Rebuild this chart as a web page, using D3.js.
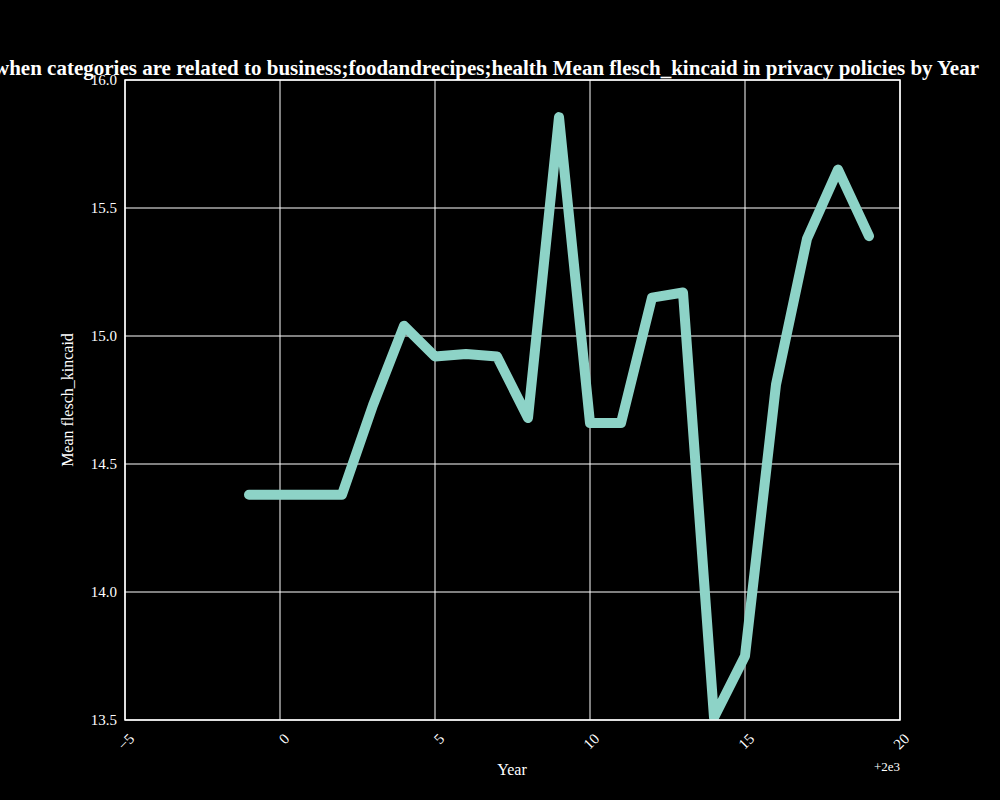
<!DOCTYPE html>
<html lang="en">
<head>
<meta charset="UTF-8">
<script src="https://d3js.org/d3.v7.min.js"></script>
<style>
  body { margin: 0; background: #000; }
  svg { display: block; }
  text { font-family: "Liberation Serif", "DejaVu Serif", serif; fill: #fff; }
</style>
</head>
<body>
<svg width="1000" height="800"></svg>
<script>
// values
const years = [-1, 0, 1, 2, 3, 4, 5, 6, 7, 8, 9, 10, 11, 12, 13, 14, 15, 16, 17, 18, 19];
const meanFK = [14.38, 14.38, 14.38, 14.38, 14.73, 15.04, 14.92, 14.93, 14.92, 14.68, 15.855,
                14.66, 14.66, 15.15, 15.17, 13.51, 13.75, 14.81, 15.38, 15.65, 15.39];
const xTicks = [-5, 0, 5, 10, 15, 20];
const yTicks = [13.5, 14.0, 14.5, 15.0, 15.5, 16.0];

const svg = d3.select("svg");
const mLeft = 125, mRight = 900, mTop = 80, mBottom = 720;

const x = d3.scaleLinear().domain([-5, 20]).range([mLeft, mRight]);
const y = d3.scaleLinear().domain([13.5, 16]).range([mBottom, mTop]);

// grid
svg.append("g").selectAll("line").data(xTicks).join("line")
  .attr("x1", d => x(d)).attr("x2", d => x(d)).attr("y1", mTop).attr("y2", mBottom)
  .attr("stroke", "#fff").attr("stroke-width", 1);
svg.append("g").selectAll("line").data(yTicks).join("line")
  .attr("x1", mLeft).attr("x2", mRight).attr("y1", d => y(d)).attr("y2", d => y(d))
  .attr("stroke", "#fff").attr("stroke-width", 1);

// line
svg.append("clipPath").attr("id", "c").append("rect")
  .attr("x", mLeft).attr("y", mTop).attr("width", mRight - mLeft).attr("height", mBottom - mTop);
svg.append("path")
  .datum(years.map((d, i) => [d, meanFK[i]]))
  .attr("clip-path", "url(#c)")
  .attr("fill", "none").attr("stroke", "#8dd3c7").attr("stroke-width", 10)
  .attr("stroke-linejoin", "round").attr("stroke-linecap", "round")
  .attr("d", d3.line().x(d => x(d[0])).y(d => y(d[1])));

// frame
svg.append("rect").attr("x", mLeft).attr("y", mTop).attr("width", mRight - mLeft).attr("height", mBottom - mTop)
  .attr("fill", "none").attr("stroke", "#fff").attr("stroke-width", 1.5);

// axes
const xa = svg.append("g").attr("transform", `translate(0,${mBottom})`)
  .call(d3.axisBottom(x).tickValues(xTicks).tickSize(0).tickPadding(0).tickFormat(d => d < 0 ? "\u2212" + (-d) : d));
xa.select(".domain").remove();
xa.selectAll("text").attr("font-size", 15).attr("text-anchor", "end")
  .attr("transform", "translate(6,16) rotate(-45)").attr("dy", "0.35em").style("fill", "#fff");

const ya = svg.append("g").attr("transform", `translate(${mLeft},0)`)
  .call(d3.axisLeft(y).tickValues(yTicks).tickSize(0).tickPadding(8).tickFormat(d3.format(".1f")));
ya.select(".domain").remove();
ya.selectAll("text").attr("font-size", 15).style("fill", "#fff");

svg.append("text").attr("x", 900).attr("y", 771).attr("text-anchor", "end")
  .attr("font-size", 13).text("+2e3");
svg.append("text").attr("x", 512).attr("y", 775).attr("text-anchor", "middle")
  .attr("font-size", 16).text("Year");
svg.append("text").attr("transform", "translate(73,400) rotate(-90)").attr("text-anchor", "middle")
  .attr("font-size", 16).text("Mean flesch_kincaid");

svg.append("text").attr("x", -6).attr("y", 75).attr("font-size", 21).attr("font-weight", "bold")
  .text("when categories are related to business;foodandrecipes;health Mean flesch_kincaid in privacy policies by Year");
</script>
</body>
</html>
